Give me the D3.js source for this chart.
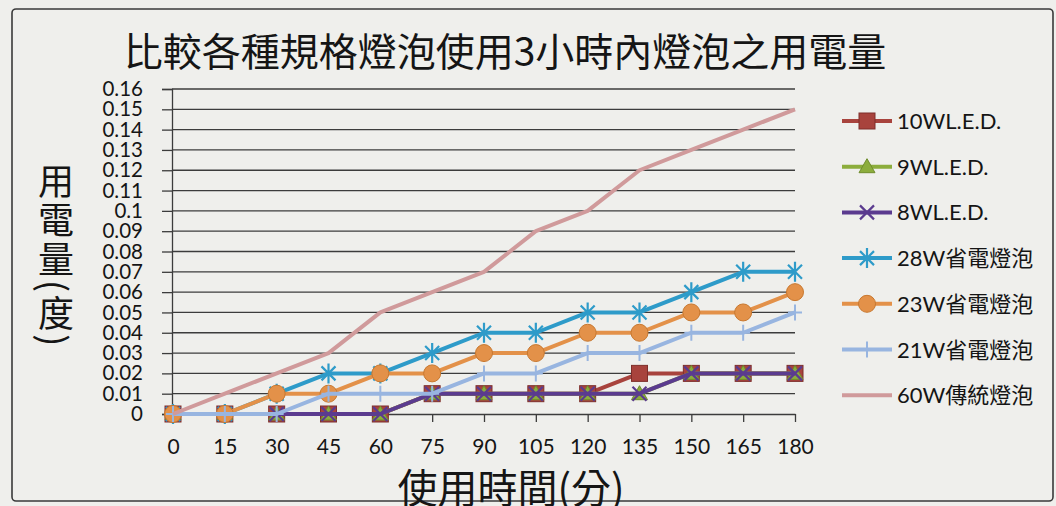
<!DOCTYPE html>
<html>
<head>
<meta charset="utf-8">
<script src="https://cdn.jsdelivr.net/npm/d3@7"></script>
<style>
body { margin: 0; background: #efefec; }
text { fill: #151515; }
</style>
</head>
<body>
<div id="chart"></div>
<script>
// minutes of use (x categories)
var minutes = [0, 15, 30, 45, 60, 75, 90, 105, 120, 135, 150, 165, 180];
var yTickValues = [0, 0.01, 0.02, 0.03, 0.04, 0.05, 0.06, 0.07, 0.08, 0.09, 0.1, 0.11, 0.12, 0.13, 0.14, 0.15, 0.16];

// kWh used
var led10 = [0, 0, 0, 0, 0, 0.01, 0.01, 0.01, 0.01, 0.02, 0.02, 0.02, 0.02];
var led9  = [0, 0, 0, 0, 0, 0.01, 0.01, 0.01, 0.01, 0.01, 0.02, 0.02, 0.02];
var led8  = [0, 0, 0, 0, 0, 0.01, 0.01, 0.01, 0.01, 0.01, 0.02, 0.02, 0.02];
var cfl28 = [0, 0, 0.01, 0.02, 0.02, 0.03, 0.04, 0.04, 0.05, 0.05, 0.06, 0.07, 0.07];
var cfl23 = [0, 0, 0.01, 0.01, 0.02, 0.02, 0.03, 0.03, 0.04, 0.04, 0.05, 0.05, 0.06];
var cfl21 = [0, 0, 0, 0.01, 0.01, 0.01, 0.02, 0.02, 0.03, 0.03, 0.04, 0.04, 0.05];
var inc60 = [0, 0.01, 0.02, 0.03, 0.05, 0.06, 0.07, 0.09, 0.1, 0.12, 0.13, 0.14, 0.15];

var seriesNames = ["10WL.E.D.", "9WL.E.D.", "8WL.E.D.", "28W省電燈泡", "23W省電燈泡", "21W省電燈泡", "60W傳統燈泡"];

var series = [
  {name: seriesNames[0], values: led10, color: "#a8433d", marker: "square"},
  {name: seriesNames[1], values: led9,  color: "#8cad3c", marker: "triangle"},
  {name: seriesNames[2], values: led8,  color: "#5b3b8f", marker: "x"},
  {name: seriesNames[3], values: cfl28, color: "#2e9bc9", marker: "star"},
  {name: seriesNames[4], values: cfl23, color: "#e39149", marker: "circle"},
  {name: seriesNames[5], values: cfl21, color: "#98b5e0", marker: "plus"},
  {name: seriesNames[6], values: inc60, color: "#d09a9b", marker: "none"}
];

var W = 1056, H = 506;
var latin = "Lato, 'Noto Sans CJK TC', sans-serif";
var cjk = "'Noto Sans CJK TC', 'Noto Sans', sans-serif";

var svg = d3.select("#chart")
  .append("svg")
  .attr("width", W)
  .attr("height", H);

// outer border of the printed chart
svg.append("rect")
  .attr("x", 12).attr("y", 9)
  .attr("width", 1041).attr("height", 492)
  .attr("rx", 4)
  .attr("fill", "none")
  .attr("stroke", "#3a3a3a")
  .attr("stroke-width", 1.6);

var x = d3.scalePoint()
  .domain(minutes)
  .range([173, 795]);

var y = d3.scaleLinear()
  .domain([0, 0.16])
  .range([414, 89]);

// gridlines
svg.append("g")
  .selectAll("line")
  .data(yTickValues.filter(function(d) { return d > 0; }))
  .enter()
  .append("line")
  .attr("x1", 172).attr("x2", 795)
  .attr("y1", function(d) { return y(d); })
  .attr("y2", function(d) { return y(d); })
  .attr("stroke", "#3c3c3c")
  .attr("stroke-width", 1.3);

// y axis
var yAxis = svg.append("g")
  .attr("transform", "translate(172,0)")
  .call(d3.axisLeft(y)
    .tickValues(yTickValues)
    .tickSize(10)
    .tickPadding(19)
    .tickFormat(function(d) { return String(+d.toFixed(2)); }));
yAxis.select(".domain").attr("stroke", "#3c3c3c").attr("stroke-width", 1.3);
yAxis.selectAll(".tick line").attr("stroke", "#3c3c3c").attr("stroke-width", 1.3);
yAxis.selectAll("text")
  .style("font-family", latin)
  .style("font-size", "20.5px")
  .attr("fill", "#151515");

// x axis
var xAxis = svg.append("g")
  .attr("transform", "translate(0," + y(0) + ")")
  .call(d3.axisBottom(x)
    .tickSize(8)
    .tickPadding(17)
    .tickSizeOuter(0));
xAxis.select(".domain").attr("stroke", "#3c3c3c").attr("stroke-width", 1.3);
xAxis.selectAll(".tick line").attr("stroke", "#3c3c3c").attr("stroke-width", 1.3);
xAxis.selectAll("text")
  .style("font-family", latin)
  .style("font-size", "21px")
  .attr("fill", "#151515");

// marker drawing
function drawMarker(g, type, color) {
  if (type === "square") {
    g.append("rect").attr("x", -8).attr("y", -8).attr("width", 16).attr("height", 16)
      .attr("fill", color).attr("stroke", "#7e2f2b").attr("stroke-width", 1);
  } else if (type === "triangle") {
    g.append("path").attr("d", "M0,-8L8,6L-8,6Z")
      .attr("fill", color).attr("stroke", "#6f8d2c").attr("stroke-width", 1);
  } else if (type === "x") {
    g.append("path").attr("d", "M-7,-7L7,7M-7,7L7,-7")
      .attr("stroke", color).attr("stroke-width", 2.2).attr("fill", "none");
  } else if (type === "star") {
    g.append("path").attr("d", "M-7,-7L7,7M-7,7L7,-7M0,-10L0,10")
      .attr("stroke", color).attr("stroke-width", 2.2).attr("fill", "none");
  } else if (type === "circle") {
    g.append("circle").attr("r", 8.5)
      .attr("fill", color).attr("stroke", "#c8782f").attr("stroke-width", 1);
  } else if (type === "plus") {
    g.append("path").attr("d", "M-7,0L7,0M0,-8L0,8")
      .attr("stroke", color).attr("stroke-width", 2).attr("fill", "none");
  }
}

var line = d3.line()
  .x(function(d, i) { return x(minutes[i]); })
  .y(function(d) { return y(d); });

series.forEach(function(s) {
  var g = svg.append("g");
  g.append("path")
    .attr("d", line(s.values))
    .attr("fill", "none")
    .attr("stroke", s.color)
    .attr("stroke-width", 4)
    .attr("stroke-linejoin", "round");
  s.values.forEach(function(v, i) {
    var m = g.append("g")
      .attr("transform", "translate(" + x(minutes[i]) + "," + y(v) + ")");
    drawMarker(m, s.marker, s.color);
  });
});

// legend
var legend = svg.append("g");
series.forEach(function(s, i) {
  var ly = 121 + i * 45.7;
  var row = legend.append("g").attr("transform", "translate(0," + ly + ")");
  row.append("line")
    .attr("x1", 842).attr("x2", 892)
    .attr("stroke", s.color)
    .attr("stroke-width", 4);
  var m = row.append("g").attr("transform", "translate(867,0)");
  drawMarker(m, s.marker, s.color);
  row.append("text")
    .attr("x", 897)
    .attr("y", 8)
    .style("font-family", latin)
    .style("font-size", "22px")
    .text(s.name);
});

// title
svg.append("text")
  .attr("x", 505)
  .attr("y", 66)
  .attr("text-anchor", "middle")
  .style("font-family", cjk)
  .style("font-size", "39px")
  .text("比較各種規格燈泡使用3小時內燈泡之用電量");

// y axis title, written vertically
svg.append("text")
  .attr("x", 56)
  .attr("y", 163)
  .style("font-family", cjk)
  .style("font-size", "36px")
  .style("letter-spacing", "3px")
  .style("writing-mode", "vertical-rl")
  .text("用電量(度)");

// x axis title
svg.append("text")
  .attr("x", 511)
  .attr("y", 503)
  .attr("text-anchor", "middle")
  .style("font-family", cjk)
  .style("font-size", "40px")
  .text("使用時間(分)");
</script>
</body>
</html>
